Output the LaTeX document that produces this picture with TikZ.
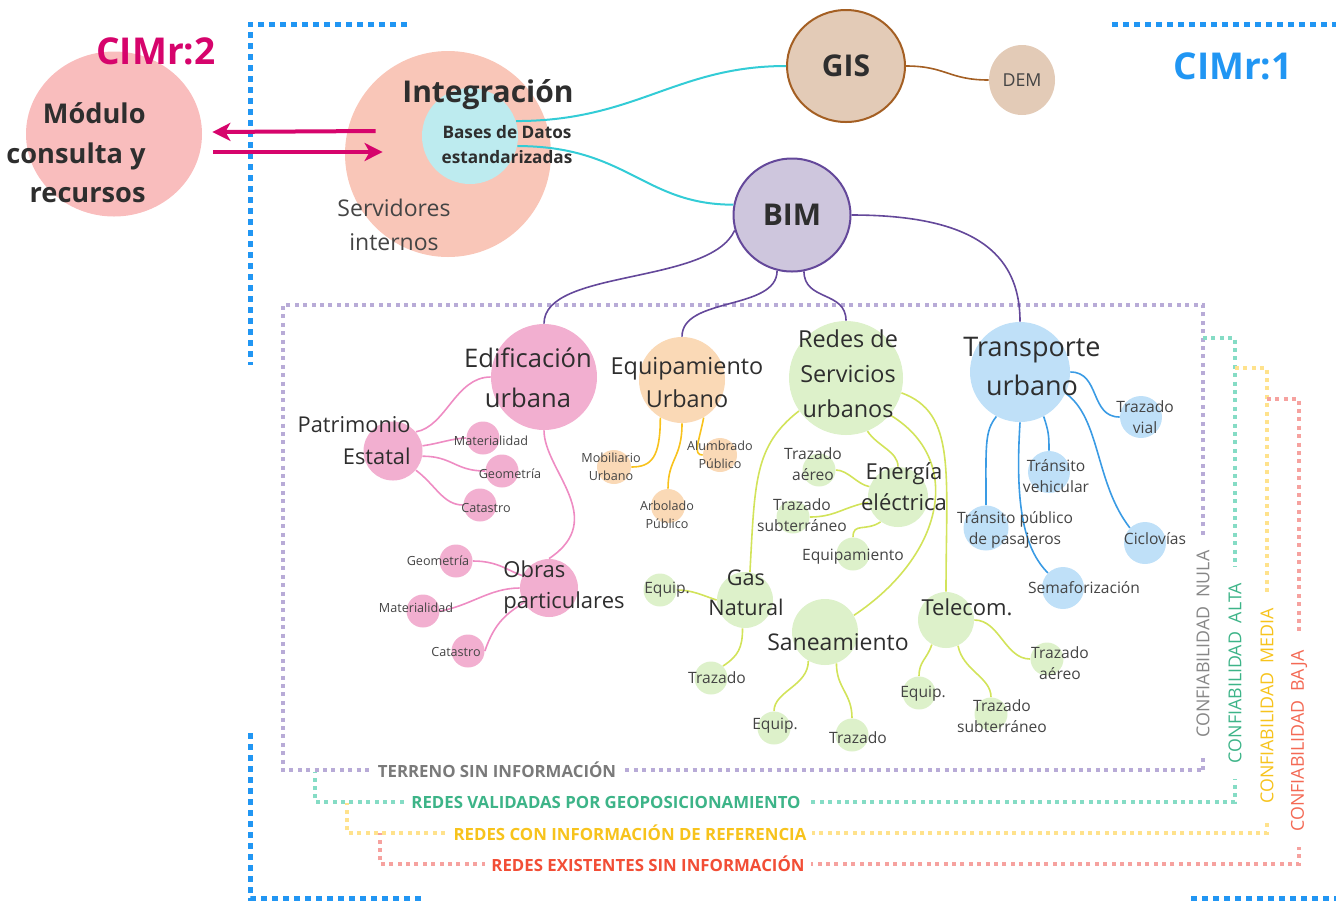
\documentclass[tikz,border=0pt]{standalone}
\usepackage{fontspec}
\setmainfont{Open Sans}
\usetikzlibrary{arrows.meta,shapes.geometric,calc}
\definecolor{cimblue}{HTML}{2196F3}
\definecolor{cimmag}{HTML}{D6046C}
\definecolor{modfill}{HTML}{F9BDBD}
\definecolor{intfill}{HTML}{F9C6B8}
\definecolor{bdfill}{HTML}{BDEBEF}
\definecolor{cyline}{HTML}{33CCD6}
\definecolor{gisfill}{HTML}{E3CBB7}
\definecolor{gisline}{HTML}{A45F23}
\definecolor{bimfill}{HTML}{CEC6DD}
\definecolor{bimline}{HTML}{64489A}
\definecolor{edfill}{HTML}{F2AFD0}
\definecolor{edline}{HTML}{EE8CC3}
\definecolor{eqfill}{HTML}{FAD9B6}
\definecolor{eqline}{HTML}{F8C21D}
\definecolor{rdfill}{HTML}{DDF1CA}
\definecolor{rdline}{HTML}{D2E35A}
\definecolor{trfill}{HTML}{BFE0F8}
\definecolor{trline}{HTML}{3A9BE4}
\definecolor{lavline}{HTML}{B8ABD7}
\definecolor{tealline}{HTML}{85DCC5}
\definecolor{yelline}{HTML}{FFE28C}
\definecolor{redline}{HTML}{F6A29F}
\definecolor{terrtxt}{HTML}{7A7A7A}
\definecolor{tealtxt}{HTML}{3DB488}
\definecolor{yeltxt}{HTML}{F7C31C}
\definecolor{redtxt}{HTML}{F24E36}
\definecolor{txtdark}{HTML}{2E2E2E}
\definecolor{txtgray}{HTML}{444444}

\begin{document}
\begin{tikzpicture}[x=0.5pt,y=-0.5pt,
    bub/.style={circle,inner sep=0pt,minimum size=#1},
    bub/.default=16.5pt,
    lbl/.style={align=center,inner sep=0pt,text=txtdark},
    lg/.style={lbl,font=\fontsize{12}{17}\selectfont},
    md/.style={lbl,text=txtgray,font=\fontsize{7.8}{10.5}\selectfont},
    sm/.style={lbl,text=txtgray,font=\fontsize{6.3}{9}\selectfont},
    hd/.style={inner sep=0pt,text=txtdark,font=\bfseries\fontsize{15}{18}\selectfont},
    frame/.style={line width=2.5pt,cimblue,dash pattern=on 3pt off 2.5pt},
    lvl/.style={line width=2pt,dash pattern=on 2pt off 2.2pt},
    botlbl/.style={fill=white,inner xsep=3pt,inner ysep=2pt,font=\bfseries\fontsize{8.4}{10}\selectfont},
    rotlbl/.style={rotate=90,fill=white,inner xsep=8pt,inner ysep=2pt,font=\fontsize{8.9}{10}\selectfont},
    con/.style={line width=0.8pt},
    cyln/.style={con,line width=1pt,cyline},
    gisln/.style={con,gisline},
    bimln/.style={con,bimline},
    edln/.style={con,edline},
    eqln/.style={con,eqline},
    rdln/.style={con,rdline},
    trln/.style={con,trline},
    marr/.style={line width=2pt,cimmag,-{Stealth[length=9pt,width=9pt,inset=2.5pt]}}
    ]
    \useasboundingbox (0,0) rectangle (1336,901);

    \draw[frame] (407,24) -- (250,24) -- (250,365);
    \draw[frame] (250,733) -- (250,898) -- (425,898);
    \draw[frame] (1112,24) -- (1336,24);
    \draw[frame] (1191,898) -- (1336,898);

    \draw[lvl,lavline] (1203,770) -- (1203,305) -- (283,305) -- (283,770) -- cycle;
    \draw[lvl,tealline] (1203,338) -- (1235,338) -- (1235,802) -- (315,802) -- (315,772);
    \draw[lvl,yelline] (1235,368) -- (1267,368) -- (1267,833) -- (347,833) -- (347,803);
    \draw[lvl,redline] (1267,399) -- (1299,399) -- (1299,864) -- (380,864) -- (380,833);

    \node[botlbl,text=terrtxt] (terr) at (497,770) {TERRENO SIN INFORMACIÓN};
    \node[botlbl,text=tealtxt] (valid) at (606,802) {REDES VALIDADAS POR GEOPOSICIONAMIENTO};
    \node[botlbl,text=yeltxt] (refer) at (630,833) {REDES CON INFORMACIÓN DE REFERENCIA};
    \node[botlbl,text=redtxt] (exist) at (648,864) {REDES EXISTENTES SIN INFORMACIÓN};
    \node[rotlbl,text=terrtxt!90] (nula) at (1203,644) {CONFIABILIDAD\enspace NULA};
    \node[rotlbl,text=tealtxt] (alta) at (1235,673) {CONFIABILIDAD\enspace ALTA};
    \node[rotlbl,text=yeltxt] (media) at (1267,706) {CONFIABILIDAD\enspace MEDIA};
    \node[rotlbl,text=redtxt!85] (baja) at (1299,741) {CONFIABILIDAD\enspace BAJA};

    \node[ellipse,fill=modfill,minimum width=88pt,minimum height=82.5pt,inner sep=0pt] (modulo) at (114,134) {};
    \node[bub=103pt,fill=intfill] (intg) at (448,154) {};
    \node[bub=48pt,fill=bdfill] (bdat) at (470,136) {};
    \node[ellipse,draw=gisline,line width=1pt,fill=gisfill,minimum width=59pt,minimum height=56pt,inner sep=0pt] (gis) at (846,66) {};
    \node[ellipse,fill=gisfill,minimum width=33pt,minimum height=35pt,inner sep=0pt] (dem) at (1022,80) {};
    \node[ellipse,draw=bimline,line width=1pt,fill=bimfill,minimum width=58.5pt,minimum height=56.5pt,inner sep=0pt] (bim) at (792,215) {};

    \node[inner sep=0pt,text=cimmag,font=\bfseries\fontsize{18.5}{20}\selectfont] (cimdos) at (156,51) {CIMr:2};
    \node[inner sep=0pt,text=cimblue,font=\bfseries\fontsize{18.5}{20}\selectfont] (cimuno) at (1233,66) {CIMr:1};

    \node[bub=53pt,fill=edfill] (edif) at (544,377) {};
    \node[bub=29.5pt,fill=edfill] (patr) at (393,451) {};
    \node[bub,fill=edfill] (pmat) at (483,438) {};
    \node[bub,fill=edfill] (pgeo) at (502,471) {};
    \node[bub,fill=edfill] (pcat) at (480,505) {};
    \node[bub=29pt,fill=edfill] (obras) at (549,588) {};
    \node[bub,fill=edfill] (ogeo) at (456,561) {};
    \node[bub,fill=edfill] (omat) at (423,611) {};
    \node[bub,fill=edfill] (ocat) at (468,651) {};

    \node[bub=43pt,fill=eqfill] (equip) at (682,380) {};
    \node[bub=17pt,fill=eqfill] (emob) at (614,467) {};
    \node[bub=17pt,fill=eqfill] (ealu) at (720,455) {};
    \node[bub=17pt,fill=eqfill] (earb) at (668,506) {};

    \node[bub=57pt,fill=rdfill] (redes) at (846,378) {};
    \node[bub=30pt,fill=rdfill] (ener) at (898,497) {};
    \node[bub,fill=rdfill] (eaer) at (819,470) {};
    \node[bub,fill=rdfill] (esub) at (793,517) {};
    \node[bub,fill=rdfill] (eequ) at (853,554) {};
    \node[bub=28pt,fill=rdfill] (gas) at (745,600) {};
    \node[bub,fill=rdfill] (gequ) at (660,590) {};
    \node[bub,fill=rdfill] (gtra) at (711,678) {};
    \node[bub=33pt,fill=rdfill] (san) at (825,632) {};
    \node[bub,fill=rdfill] (sequ) at (774,728) {};
    \node[bub,fill=rdfill] (stra) at (852,735) {};
    \node[bub=28pt,fill=rdfill] (tel) at (946,620) {};
    \node[bub,fill=rdfill] (taer) at (1047,659) {};
    \node[bub,fill=rdfill] (tequ) at (919,693) {};
    \node[bub,fill=rdfill] (tsub) at (991,714) {};

    \node[bub=50pt,fill=trfill] (trans) at (1020,372) {};
    \node[bub=21pt,fill=trfill] (tvia) at (1141,417) {};
    \node[bub=21pt,fill=trfill] (tveh) at (1049,472) {};
    \node[bub=22.5pt,fill=trfill] (tpub) at (986,528) {};
    \node[bub=21pt,fill=trfill] (tcic) at (1145,543) {};
    \node[bub=21pt,fill=trfill] (tsem) at (1063,588) {};

    \draw[marr] ($(intg.west)+(31,-23)$) -- ($(modulo.east)+(10,-2)$);
    \draw[marr] ($(modulo.east)+(11,18)$) -- ($(intg.west)+(38,-2)$);

    \draw[cyln] (bdat.18) .. controls +(120,0) and +(-110,0) .. (gis.west);
    \draw[cyln] (bdat.-12) .. controls +(110,0) and +(-90,0) .. (bim.170);
    \draw[gisln] (gis.east) .. controls +(40,0) and +(-40,0) .. (dem.west);

    \draw[bimln] (bim.east) .. controls +(120,0) and +(0,-70) .. (trans.north);
    \draw[bimln] (bim.195) .. controls +(-25,55) and +(0,-55) .. (edif.north);
    \draw[bimln] (bim.255) .. controls +(0,40) and +(0,-40) .. (equip.north);
    \draw[bimln] (bim.282) .. controls +(0,30) and +(0,-30) .. (redes.north);

    \draw[edln] (edif.west) .. controls +(-35,0) and +(30,-5) .. (patr.40);
    \draw[edln] (patr.10) .. controls +(15,-2) and +(-12,0) .. (pmat.west);
    \draw[edln] (patr.-10) .. controls +(30,0) and +(-30,0) .. (pgeo.west);
    \draw[edln] (patr.-40) .. controls +(20,15) and +(-20,0) .. (pcat.west);
    \draw[edln] (edif.south) .. controls +(0,40) and +(60,-40) .. (obras.north);
    \draw[edln] (ogeo.east) .. controls +(25,0) and +(-15,-5) .. (obras.155);
    \draw[edln] (omat.east) .. controls +(30,-5) and +(-30,0) .. (obras.west);
    \draw[edln] (ocat.east) .. controls +(10,-30) and +(-15,10) .. (obras.210);

    \draw[eqln] (equip.240) .. controls +(0,40) and +(20,0) .. (emob.east);
    \draw[eqln] (equip.south) .. controls +(0,35) and +(0,-30) .. (earb.north);
    \draw[eqln] (equip.-60) .. controls +(-5,25) and +(-10,0) .. (ealu.west);

    \draw[rdln] (redes.215) .. controls +(-45,35) and +(5,-90) .. (gas.80);
    \draw[rdln] (redes.-68) .. controls +(10,15) and +(0,-15) .. (ener.north);
    \draw[rdln] (redes.-40) .. controls +(75,45) and +(90,-60) .. (san.30);
    \draw[rdln] (redes.-15) .. controls +(55,20) and +(0,-120) .. (tel.north);
    \draw[rdln] (ener.160) .. controls +(-12,-2) and +(12,0) .. (eaer.east);
    \draw[rdln] (ener.190) .. controls +(-25,5) and +(25,0) .. (esub.east);
    \draw[rdln] (ener.235) .. controls +(-15,10) and +(0,-15) .. (eequ.north);
    \draw[rdln] (gequ.east) .. controls +(15,0) and +(-15,-5) .. (gas.west);
    \draw[rdln] (gas.-95) .. controls +(0,20) and +(15,-10) .. (gtra.45);
    \draw[rdln] (san.240) .. controls +(0,25) and +(0,-20) .. (sequ.north);
    \draw[rdln] (san.-70) .. controls +(0,25) and +(0,-25) .. (stra.north);
    \draw[rdln] (tel.east) .. controls +(25,0) and +(-25,0) .. (taer.west);
    \draw[rdln] (tel.240) .. controls +(-5,15) and +(0,-15) .. (tequ.north);
    \draw[rdln] (tel.-65) .. controls +(5,25) and +(0,-20) .. (tsub.north);

    \draw[trln] (trans.east) .. controls +(30,0) and +(-30,0) .. (tvia.west);
    \draw[trln] (trans.-25) .. controls +(35,25) and +(-35,-45) .. (tcic.135);
    \draw[trln] (trans.-62) .. controls +(5,15) and +(0,-15) .. (tveh.north);
    \draw[trln] (trans.-118) .. controls +(-12,15) and +(0,-60) .. (tpub.north);
    \draw[trln] (trans.south) .. controls +(-5,80) and +(-25,-25) .. (tsem.135);

    \node[lbl,align=right,anchor=east,font=\bfseries\fontsize{13.6}{19.75}\selectfont] (modtxt) at (146,153) {Módulo\\consulta y\\recursos};
    \node[hd,anchor=base] (intgtxt) at (488,102) {Integración};
    \node[lbl,font=\bfseries\fontsize{8.6}{12.5}\selectfont] (bdattxt) at (507,145) {Bases de Datos\\estandarizadas};
    \node[lbl,text=txtgray,font=\fontsize{11.5}{17}\selectfont] (servtxt) at (394,225) {Servidores\\internos};
    \node[hd] (gistxt) at (846,66) {GIS};
    \node[md,font=\fontsize{8.9}{10}\selectfont] (demtxt) at (1022,80) {DEM};
    \node[hd] (bimtxt) at (792,215) {BIM};

    \node[lg,font=\fontsize{12.8}{20}\selectfont] (ediftxt) at (528,378) {Edificación\\urbana};
    \node[lg,align=right,anchor=east,font=\fontsize{10.9}{16}\selectfont] (patrtxt) at (411,441) {Patrimonio\\Estatal};
    \node[sm] (pmattxt) at (491,441) {Materialidad};
    \node[sm] (pgeotxt) at (510,474) {Geometría};
    \node[sm] (pcattxt) at (486,508) {Catastro};
    \node[lg,align=left,anchor=west,font=\fontsize{11}{15.5}\selectfont] (obrastxt) at (503,587) {Obras\\particulares};
    \node[sm] (ogeotxt) at (438,561) {Geometría};
    \node[sm] (omattxt) at (416,608) {Materialidad};
    \node[sm] (ocattxt) at (456,652) {Catastro};

    \node[lg,font=\fontsize{11.7}{16.5}\selectfont] (equiptxt) at (687,383) {Equipamiento\\Urbano};
    \node[sm] (emobtxt) at (611,467) {Mobiliario\\Urbano};
    \node[sm] (ealutxt) at (720,455) {Alumbrado\\Público};
    \node[sm] (earbtxt) at (667,515) {Arbolado\\Público};

    \node[lg,font=\fontsize{11.7}{17.5}\selectfont] (redestxt) at (848,374) {Redes de\\Servicios\\urbanos};
    \node[lg,font=\fontsize{11}{15.5}\selectfont] (enertxt) at (904,487) {Energía\\eléctrica};
    \node[md] (eaertxt) at (813,464) {Trazado\\aéreo};
    \node[md] (esubtxt) at (802,515) {Trazado\\subterráneo};
    \node[md] (eequtxt) at (853,557) {Equipamiento};
    \node[lg,font=\fontsize{10.8}{15}\selectfont] (gastxt) at (746,593) {Gas\\Natural};
    \node[md] (gequtxt) at (667,590) {Equip.};
    \node[md] (gtratxt) at (717,678) {Trazado};
    \node[lg,font=\fontsize{11.5}{15}\selectfont] (santxt) at (838,642) {Saneamiento};
    \node[md] (sequtxt) at (775,726) {Equip.};
    \node[md] (stratxt) at (858,738) {Trazado};
    \node[lg,font=\fontsize{11}{15}\selectfont] (teltxt) at (967,607) {Telecom.};
    \node[md] (taertxt) at (1060,663) {Trazado\\aéreo};
    \node[md] (tequtxt) at (923,694) {Equip.};
    \node[md] (tsubtxt) at (1002,716) {Trazado\\subterráneo};

    \node[lg,font=\fontsize{13.5}{19.5}\selectfont] (transtxt) at (1032,366) {Transporte\\urbano};
    \node[md] (tviatxt) at (1145,417) {Trazado\\vial};
    \node[md] (tvehtxt) at (1056,476) {Tránsito\\vehicular};
    \node[md] (tpubtxt) at (1015,530) {Tránsito público\\de pasajeros};
    \node[md] (tcictxt) at (1155,539) {Ciclovías};
    \node[md] (tsemtxt) at (1084,588) {Semaforización};
\end{tikzpicture}
\end{document}
